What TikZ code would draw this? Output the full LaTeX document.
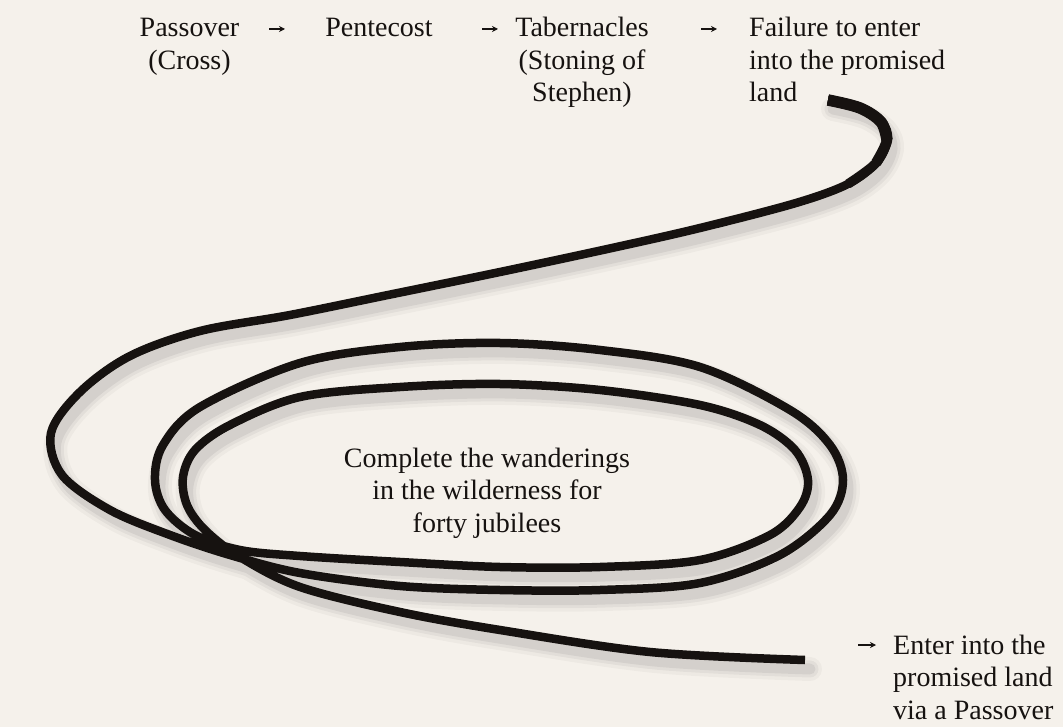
\documentclass[tikz,border=0pt]{standalone}
\usepackage{fontspec}
\setmainfont{Liberation Serif}
\usetikzlibrary{arrows.meta}
\definecolor{paper}{RGB}{245,241,235}
\definecolor{ink}{RGB}{22,18,16}
\newcommand\ropepath{plot[smooth,tension=0.55] coordinates {
(828,100) (860,108) (881,122) (887,140) (876,163) (848,184) (796,203)
(700,228) (612,248) (500,272) (388,295) (290,315) (200,331) (130,356)
(80,392) (51,433) (62,475) (110,510) (170,535) (230,555) (300,573)
(400,586) (500,590) (600,590) (700,583) (780,555) (830,515) (843,480)
(830,445) (790,410) (700,367) (600,350) (500,343) (400,347) (300,363)
(200,407) (163,445) (155,480) (165,510) (195,535) (240,550) (300,556)
(400,562) (500,567) (600,567) (700,560) (770,535) (800,507) (808,480)
(795,450) (760,425) (700,405) (600,390) (500,384) (400,387) (300,397)
(230,425) (195,450) (183,477) (187,505) (205,530) (240,557) (300,587)
(400,612) (500,630) (650,652) (805,660)}}
\begin{document}
\begin{tikzpicture}[x=1pt,y=-1pt,
  lbl/.style={font=\fontsize{28}{32.5}\selectfont, text=ink, inner sep=0pt, align=center},
  arr/.style={-{Stealth[length=6pt,width=6pt]}, line width=1.3pt, draw=ink},
  rope/.style={line width=8.5pt, draw=ink, line cap=butt, line join=round},
  ropeshadow/.style={draw=black, line cap=round, line join=round}]
\fill[paper] (0,0) rectangle (1063,727);
\useasboundingbox (0,0) rectangle (1063,727);
% shadow
\begin{scope}[shift={(5,9)}]
  \draw[ropeshadow, line width=24pt, opacity=0.03] \ropepath;
  \draw[ropeshadow, line width=17pt, opacity=0.045] \ropepath;
  \draw[ropeshadow, line width=11pt, opacity=0.06] \ropepath;
\end{scope}
% rope
\draw[rope] \ropepath;
\draw[rope, line width=9.5pt] plot[smooth,tension=0.55] coordinates {(828,100) (860,108) (881,122) (887,140) (876,163) (848,184)};
\draw[rope, line width=10.5pt] plot[smooth,tension=0.55] coordinates {(828,100) (860,108) (881,122) (887,140) (876,163)};
\draw[rope, line width=11.5pt] plot[smooth,tension=0.55] coordinates {(828,100) (860,108) (881,122) (887,140)};
% labels
\node[lbl, anchor=base] (pass) at (189.5,69.5) {Passover\\(Cross)};
\node[lbl, anchor=base] (pent) at (379,37) {Pentecost};
\node[lbl, anchor=base] (tab) at (582,102) {Tabernacles\\(Stoning of\\Stephen)};
\node[lbl, anchor=base west, align=left] (fail) at (749,102) {Failure to enter\\into the promised\\land};
\node[lbl, anchor=base] (wander) at (487,532) {Complete the wanderings\\in the wilderness for\\forty jubilees};
\node[lbl, anchor=base west, align=left] (enter) at (893,719) {Enter into the\\promised land\\via a Passover};
% small arrows
\coordinate (a1s) at (269,29); \coordinate (a1e) at (285,29);
\coordinate (a2s) at (482,29); \coordinate (a2e) at (498,29);
\coordinate (a3s) at (701,29); \coordinate (a3e) at (717,29);
\coordinate (a4s) at (858,645); \coordinate (a4e) at (876,645);
\draw[arr] (a1s) -- (a1e);
\draw[arr] (a2s) -- (a2e);
\draw[arr] (a3s) -- (a3e);
\draw[arr] (a4s) -- (a4e);
\end{tikzpicture}
\end{document}
